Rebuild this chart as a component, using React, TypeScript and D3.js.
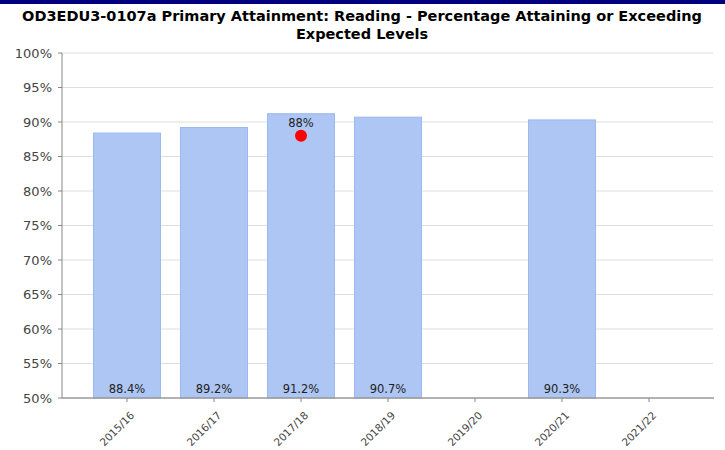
import React from "react";
import * as d3 from "d3";

const categories = ["2015/16", "2016/17", "2017/18", "2018/19", "2019/20", "2020/21", "2021/22"];
const values: (number | null)[] = [88.4, 89.2, 91.2, 90.7, null, 90.3, null];
const targetCategory = "2017/18";
const targetValue = 88;
const yTicks = [50, 55, 60, 65, 70, 75, 80, 85, 90, 95, 100];
const titleLines = [
  "OD3EDU3-0107a Primary Attainment: Reading - Percentage Attaining or Exceeding",
  "Expected Levels",
];

const W = 725;
const H = 450;
const plotLeft = 62;
const plotRight = 713;
const plotTop = 53;
const plotBottom = 398;

export default function App() {
  const x = d3
    .scaleBand<string>()
    .domain(categories)
    .range([83.5, 692.5])
    .paddingInner(0.23)
    .paddingOuter(0.115);
  const y = d3.scaleLinear().domain([50, 100]).range([plotBottom, plotTop]);
  const font = "Tahoma, 'DejaVu Sans', Verdana, sans-serif";

  return (
    <div style={{ position: "fixed", left: 0, top: 0 }}>
      <svg width={W} height={H} style={{ display: "block", background: "#fff" }}>
        <rect x={0} y={0} width={W} height={4} fill="#00007f" />
        {titleLines.map((t, i) => (
          <text
            key={i}
            x={362}
            y={21 + i * 18}
            textAnchor="middle"
            fontFamily={font}
            fontWeight="bold"
            fontSize={14.5}
            fill="#000"
          >
            {t}
          </text>
        ))}
        {yTicks.map((t) => (
          <g key={t}>
            {t > 50 && (
              <line x1={plotLeft} x2={plotRight} y1={y(t)} y2={y(t)} stroke="#dedede" strokeWidth={1} />
            )}
            <line x1={plotLeft - 4} x2={plotLeft} y1={y(t)} y2={y(t)} stroke="#888" />
            <text
              x={52}
              y={y(t)}
              dy="0.36em"
              textAnchor="end"
              fontFamily={font}
              fontSize={13}
              fill="#444"
            >
              {t}%
            </text>
          </g>
        ))}
        {categories.map((c, i) => {
          const v = values[i];
          if (v == null) return null;
          return (
            <rect
              key={c}
              x={x(c)}
              y={y(v)}
              width={x.bandwidth()}
              height={plotBottom - y(v)}
              fill="#aec6f4"
              stroke="#9cb8f0"
              strokeWidth={1}
            />
          );
        })}
        {categories.map((c, i) => {
          const v = values[i];
          if (v == null) return null;
          return (
            <text
              key={c}
              x={(x(c) as number) + x.bandwidth() / 2}
              y={plotBottom - 5}
              textAnchor="middle"
              fontFamily={font}
              fontSize={11.5}
              fill="#222"
            >
              {v.toFixed(1)}%
            </text>
          );
        })}
        <line x1={plotLeft} x2={plotLeft} y1={plotTop} y2={plotBottom} stroke="#888" />
        <line x1={plotLeft} x2={plotRight + 1} y1={plotBottom} y2={plotBottom} stroke="#999" strokeWidth={1.5} />
        {categories.map((c) => {
          const cx = (x(c) as number) + x.bandwidth() / 2;
          return (
            <g key={c}>
              <line x1={cx} x2={cx} y1={plotBottom} y2={plotBottom + 4} stroke="#888" />
              <text
                transform={`translate(${cx + 8},${plotBottom + 18}) rotate(-45)`}
                textAnchor="end"
                fontFamily={font}
                fontSize={10.5}
                fill="#444"
              >
                {c}
              </text>
            </g>
          );
        })}
        {(() => {
          const cx = (x(targetCategory) as number) + x.bandwidth() / 2;
          return (
            <g>
              <circle cx={cx} cy={y(targetValue)} r={6} fill="#ff0000" />
              <text
                x={cx}
                y={y(targetValue) - 9}
                textAnchor="middle"
                fontFamily={font}
                fontSize={11.5}
                fill="#222"
              >
                {targetValue}%
              </text>
            </g>
          );
        })()}
      </svg>
    </div>
  );
}
